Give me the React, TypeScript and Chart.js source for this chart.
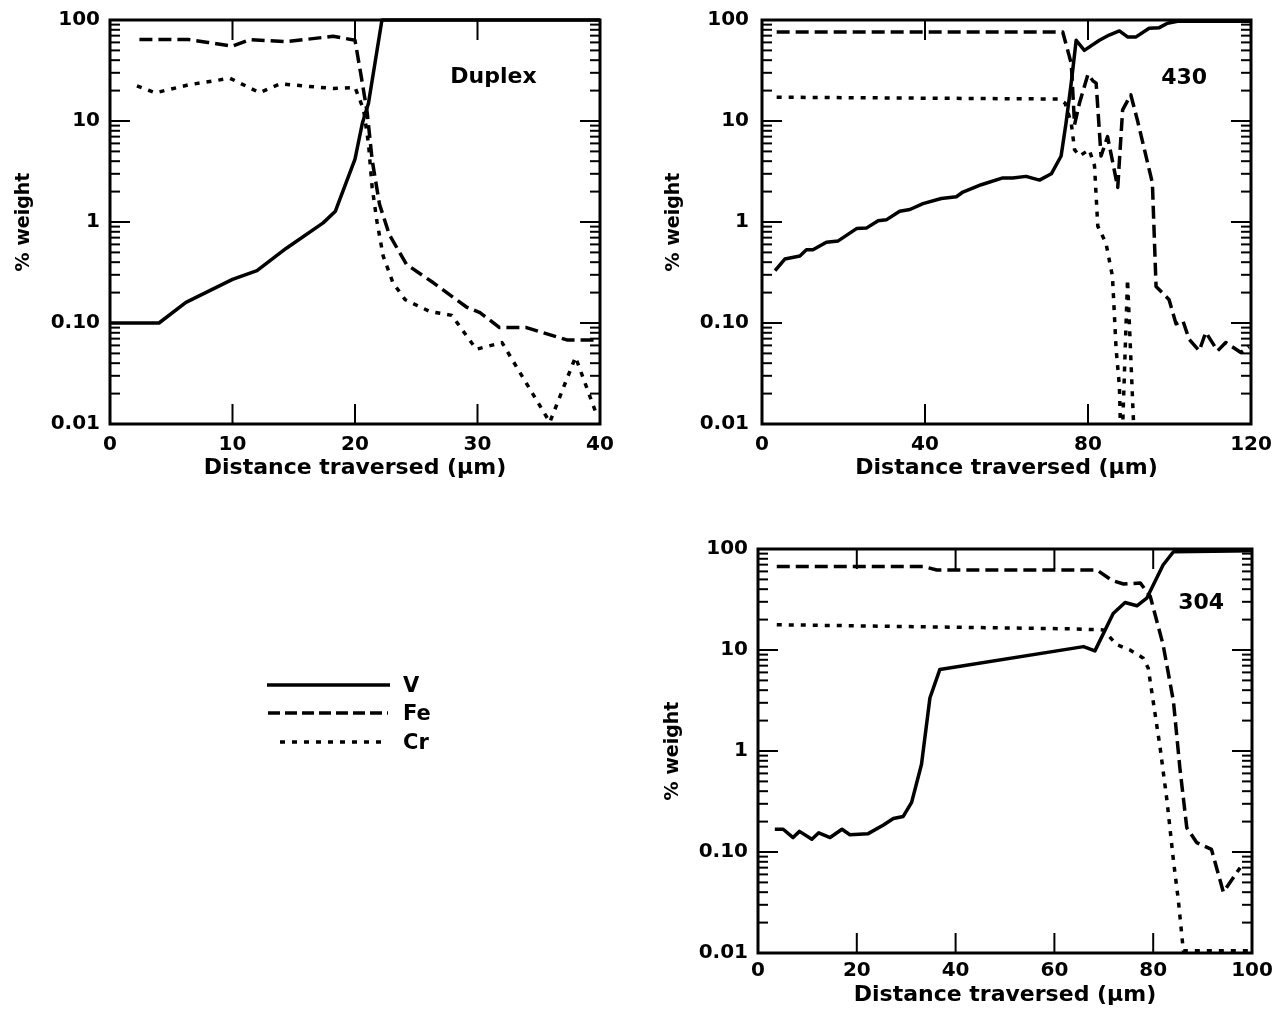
import React, { useEffect, useRef } from 'react';
import { Chart, registerables } from 'chart.js';

Chart.register(...registerables);

// ---------- shared axis values ----------
const yTickValues = [0.01, 0.1, 1, 10, 100];
const yTickLabels = ['0.01', '0.10', '1', '10', '100'];
const seriesNames = ['V', 'Fe', 'Cr'];
const xTitle = 'Distance traversed (\u03bcm)';
const yTitle = '% weight';

// ---------- Duplex ----------
const duplexTicksX = [0, 10, 20, 30, 40];
const duplexVX = [0, 4, 6.2, 10, 12, 14.4, 17.4, 18.4, 20, 20.6, 21.1, 22.2, 40];
const duplexV = [0.1, 0.1, 0.16, 0.27, 0.33, 0.55, 0.98, 1.28, 4.2, 9.5, 15, 100, 100];
const duplexFeX = [2.4, 6.4, 8, 10, 11.4, 14.4, 18.2, 20, 20.5, 21, 21.4, 22, 22.8, 24.2, 26.4, 29.1, 30.2, 31.8, 34, 37.3, 40];
const duplexFe = [64, 64, 60, 55, 64, 61, 69, 63, 28, 12, 4.1, 1.5, 0.75, 0.38, 0.25, 0.144, 0.127, 0.09, 0.09, 0.068, 0.068];
const duplexCrX = [2.2, 3.7, 6.4, 9.8, 12.2, 13.9, 18.2, 20, 20.7, 21.1, 21.4, 21.8, 22.3, 23.1, 24.1, 26.1, 27.9, 29.9, 32, 35.9, 38, 39.7];
const duplexCr = [22.3, 19, 22.8, 26.5, 19.1, 23.3, 21, 21.5, 13, 6, 2.2, 1.0, 0.46, 0.25, 0.17, 0.13, 0.119, 0.055, 0.064, 0.0104, 0.046, 0.0126];

// ---------- 430 ----------
const s430TicksX = [0, 40, 80, 120];
const s430VX = [3.2, 5.6, 9.3, 10.9, 12.5, 15.8, 18.7, 23.2, 25.6, 28.5, 30.5, 33.8, 36.3, 39.5, 44, 47.7, 49.3, 53.8, 59.1, 61.5, 64.8, 68.1, 71, 73.4, 74.6, 75.9, 77.1, 79.1, 82.8, 85.2, 87.7, 89.7, 91.8, 95, 97.5, 99.5, 102, 120];
const s430V = [0.33, 0.43, 0.46, 0.53, 0.53, 0.63, 0.65, 0.86, 0.87, 1.03, 1.05, 1.28, 1.33, 1.52, 1.71, 1.78, 1.98, 2.34, 2.73, 2.73, 2.83, 2.6, 3.0, 4.5, 9.5, 24, 63, 50, 63, 71, 78, 68, 68, 83, 84, 93, 97, 97];
const s430FeX = [3.6, 73.8, 75.9, 76.7, 77.9, 80, 81.2, 82, 83.2, 84.8, 87.3, 88.5, 90.5, 92.1, 95.8, 96.7, 99.9, 101.6, 103.3, 104.8, 107.3, 108.9, 111.8, 113.8, 117.5, 119.5];
const s430Fe = [76, 76, 37, 9.2, 15, 29, 25, 23.7, 4.5, 7, 2.2, 12.9, 18.2, 10.3, 2.44, 0.23, 0.17, 0.098, 0.105, 0.069, 0.053, 0.081, 0.053, 0.064, 0.051, 0.058];
const s430CrX = [3.6, 72.9, 74.4, 75.9, 76.7, 77.9, 80.3, 81.6, 82.4, 84.4, 86, 86.9, 87.7, 88.2, 89.7, 91.6];
const s430Cr = [17.2, 16.5, 15, 9.5, 5.2, 4.5, 5.2, 3.6, 0.91, 0.62, 0.29, 0.055, 0.024, 0.004, 0.27, 0.004];

// ---------- 304 ----------
const s304TicksX = [0, 20, 40, 60, 80, 100];
const s304VX = [3.4, 5.1, 7.1, 8.4, 10.9, 12.3, 14.6, 17, 18.6, 22.3, 25.4, 27.4, 29.4, 31.1, 33.1, 34.8, 36.8, 65.9, 68.2, 71.9, 74.3, 76.7, 78.7, 82, 84.1, 100];
const s304V = [0.168, 0.168, 0.139, 0.16, 0.134, 0.155, 0.139, 0.168, 0.148, 0.152, 0.185, 0.215, 0.225, 0.31, 0.74, 3.35, 6.4, 10.8, 9.8, 23, 29.5, 27.4, 32.6, 69.5, 94, 96];
const s304FeX = [3.8, 33.5, 36.2, 68.6, 71.6, 74, 77.4, 79.4, 82, 84.1, 85.4, 86.8, 88.8, 91.8, 94.2, 97.6];
const s304Fe = [67, 67, 62, 62, 49, 45, 46, 34, 11.3, 3.1, 0.68, 0.174, 0.124, 0.106, 0.04, 0.07];
const s304CrX = [3.8, 63.2, 69.9, 72.6, 75.3, 78, 79, 80, 81.4, 82.8, 84.1, 85.1, 86.1, 100];
const s304Cr = [17.8, 16.2, 15.8, 11.3, 10, 8.3, 6.6, 3.1, 1.08, 0.32, 0.082, 0.033, 0.0105, 0.0105];

// ---------- panel labels (data coordinates) ----------
const panelNames = ['Duplex', '430', '304'];
const panelNameX = [31.3, 103.6, 89.7];
const panelNameY = [27.3, 26.3, 29.2];

const FONT = '"DejaVu Sans", sans-serif';

type Layout = {
  left: number; top: number; width: number; height: number;
  padTop: number; padRight: number; yAxisW: number; xAxisH: number;
  yTickPad: number; xTickPad: number; xTitlePad: number; yTitlePad: number;
};

const layouts: Layout[] = [
  { left: 0, top: 0, width: 620, height: 490, padTop: 20, padRight: 20, yAxisW: 110, xAxisH: 66, yTickPad: 10, xTickPad: 9, xTitlePad: 9, yTitlePad: 13 },
  { left: 640, top: 0, width: 640, height: 490, padTop: 20, padRight: 29, yAxisW: 122, xAxisH: 66, yTickPad: 13, xTickPad: 9, xTitlePad: 9, yTitlePad: 23 },
  { left: 640, top: 520, width: 640, height: 500, padTop: 29, padRight: 28, yAxisW: 118, xAxisH: 67, yTickPad: 10, xTickPad: 6, xTitlePad: 12, yTitlePad: 22 },
];

const panelData = [
  { ticksX: duplexTicksX, series: [[duplexVX, duplexV], [duplexFeX, duplexFe], [duplexCrX, duplexCr]] },
  { ticksX: s430TicksX, series: [[s430VX, s430V], [s430FeX, s430Fe], [s430CrX, s430Cr]] },
  { ticksX: s304TicksX, series: [[s304VX, s304V], [s304FeX, s304Fe], [s304CrX, s304Cr]] },
];

const dashes: number[][] = [[], [13, 6], [5, 7]];
const widths = [3.5, 3.5, 3.5];

const framePlugin = {
  id: 'frame',
  afterDatasetsDraw(chart: any) {
    const { ctx, chartArea: a, scales } = chart;
    const x = scales.x, y = scales.y;
    ctx.save();
    ctx.strokeStyle = '#000';
    ctx.setLineDash([]);
    const line = (x1: number, y1: number, x2: number, y2: number) => {
      ctx.beginPath(); ctx.moveTo(x1, y1); ctx.lineTo(x2, y2); ctx.stroke();
    };
    ctx.lineWidth = 2;
    x.ticks.forEach((t: any) => {
      const px = x.getPixelForValue(t.value);
      line(px, a.bottom, px, a.bottom - 20);
      line(px, a.top, px, a.top + 20);
    });
    y.ticks.forEach((t: any) => {
      const py = y.getPixelForValue(t.value);
      line(a.left, py, a.left + 20, py);
      line(a.right, py, a.right - 20, py);
    });
    for (let k = 0; k < yTickValues.length - 1; k++) {
      const d = yTickValues[k];
      for (let m = 2; m <= 9; m++) {
        const py = y.getPixelForValue(d * m);
        line(a.left, py, a.left + 10, py);
        line(a.right, py, a.right - 10, py);
      }
    }
    ctx.lineWidth = 3;
    ctx.strokeRect(a.left, a.top, a.right - a.left, a.bottom - a.top);
    ctx.restore();
  },
};

const labelPlugin = {
  id: 'panelLabel',
  afterDraw(chart: any, _args: any, opts: any) {
    const { ctx, scales } = chart;
    ctx.save();
    ctx.fillStyle = '#000';
    ctx.font = `bold 22px ${FONT}`;
    ctx.textAlign = 'center';
    ctx.textBaseline = 'middle';
    ctx.fillText(opts.text, scales.x.getPixelForValue(opts.x), scales.y.getPixelForValue(opts.y));
    ctx.restore();
  },
};

const hiddenGrid = (len: number) => ({
  display: true,
  drawOnChartArea: false,
  drawTicks: true,
  tickLength: len,
  color: 'rgba(0,0,0,0)',
});

function Panel({ idx }: { idx: number }) {
  const ref = useRef<HTMLCanvasElement | null>(null);
  const L = layouts[idx];
  useEffect(() => {
    const pd = panelData[idx];
    const datasets = pd.series.map(([xs, ys], si) => ({
      label: seriesNames[si],
      data: (xs as number[]).map((xv, i) => ({ x: xv, y: (ys as number[])[i] })),
      borderColor: '#000',
      borderWidth: widths[si],
      borderDash: dashes[si],
      borderCapStyle: 'butt',
      borderJoinStyle: 'round',
      pointRadius: 0,
      tension: 0,
      fill: false,
      clip: { left: 5, top: 5, right: 5, bottom: 0 },
    }));
    const xMax = pd.ticksX[pd.ticksX.length - 1];
    const chart = new Chart(ref.current as HTMLCanvasElement, {
      type: 'line',
      data: { datasets } as any,
      options: {
        animation: false,
        responsive: false,
        maintainAspectRatio: false,
        layout: { padding: { left: 0, top: L.padTop, right: L.padRight, bottom: 0 } },
        plugins: {
          legend: { display: false },
          tooltip: { enabled: false },
          panelLabel: { text: panelNames[idx], x: panelNameX[idx], y: panelNameY[idx] },
        } as any,
        scales: {
          x: {
            type: 'linear',
            min: 0,
            max: xMax,
            afterBuildTicks: (s: any) => { s.ticks = pd.ticksX.map((v) => ({ value: v })); },
            afterFit: (s: any) => { s.height = L.xAxisH; },
            grid: hiddenGrid(L.xTickPad),
            border: { display: false },
            ticks: { color: '#000', font: { family: FONT, size: 20, weight: 'bold' }, padding: 0, maxRotation: 0, autoSkip: false },
            title: { display: true, text: xTitle, color: '#000', font: { family: FONT, size: 22, weight: 'bold' }, padding: { top: 0, bottom: L.xTitlePad } },
          },
          y: {
            type: 'logarithmic',
            min: 0.01,
            max: 100,
            afterBuildTicks: (s: any) => { s.ticks = yTickValues.map((v) => ({ value: v })); },
            afterFit: (s: any) => { s.width = L.yAxisW; },
            grid: hiddenGrid(L.yTickPad),
            border: { display: false },
            ticks: {
              color: '#000',
              font: { family: FONT, size: 20, weight: 'bold' },
              padding: 0,
              autoSkip: false,
              callback: (v: any) => {
                const i = yTickValues.findIndex((t) => Math.abs(t - Number(v)) < 1e-9);
                return i >= 0 ? yTickLabels[i] : '';
              },
            },
            title: { display: true, text: yTitle, color: '#000', font: { family: FONT, size: 19, weight: 'bold' }, padding: { top: L.yTitlePad, bottom: 0 } },
          },
        },
      } as any,
      plugins: [framePlugin, labelPlugin],
    });
    return () => chart.destroy();
  }, [idx]);
  return (
    <canvas
      ref={ref}
      width={L.width}
      height={L.height}
      style={{ position: 'absolute', left: L.left, top: L.top, width: L.width, height: L.height }}
    />
  );
}

function Legend() {
  const rows = [
    { name: seriesNames[0], x1: 267, x2: 390, y: 685, dash: '', w: 3.5 },
    { name: seriesNames[1], x1: 268, x2: 388, y: 713, dash: '12 5', w: 3.5 },
    { name: seriesNames[2], x1: 280, x2: 388, y: 742, dash: '5 7', w: 3.5 },
  ];
  return (
    <>
      <svg width={1283} height={1023} style={{ position: 'absolute', left: 0, top: 0, pointerEvents: 'none' }}>
        {rows.map((r) => (
          <line key={r.name} x1={r.x1} y1={r.y} x2={r.x2} y2={r.y} stroke="#000" strokeWidth={r.w} strokeDasharray={r.dash || undefined} />
        ))}
      </svg>
      {rows.map((r) => (
        <div
          key={r.name + 't'}
          style={{ position: 'absolute', left: 403, top: r.y + 1 - 13, height: 26, lineHeight: '26px', font: `bold 21px ${FONT}`, color: '#000' }}
        >
          {r.name}
        </div>
      ))}
    </>
  );
}

export default function App() {
  return (
    <div style={{ position: 'absolute', left: 0, top: 0, width: 1283, height: 1023, background: '#fff', overflow: 'hidden' }}>
      <Panel idx={0} />
      <Panel idx={1} />
      <Panel idx={2} />
      <Legend />
    </div>
  );
}
